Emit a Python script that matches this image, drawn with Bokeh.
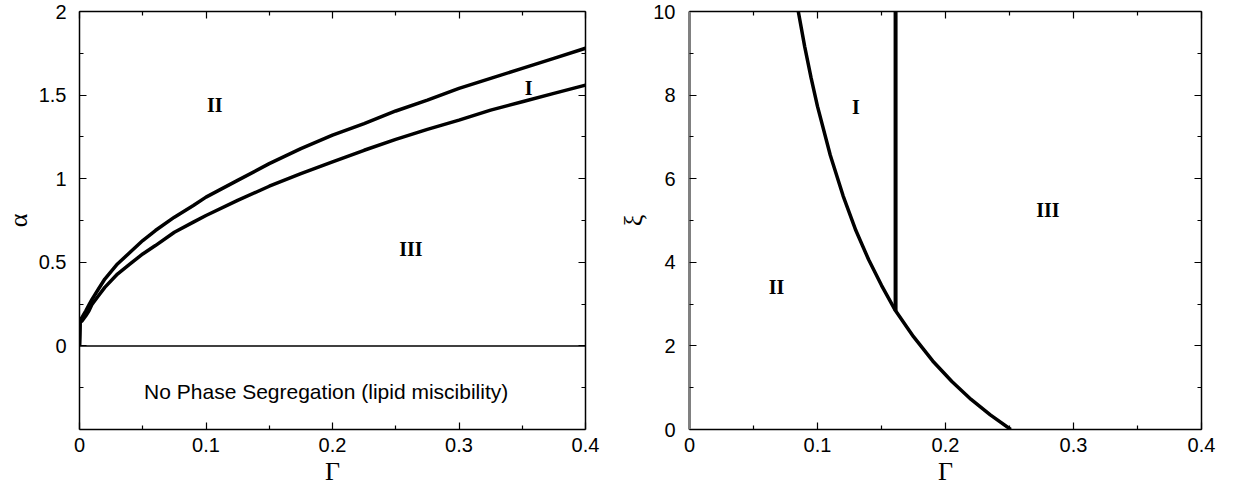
from bokeh.plotting import figure
from bokeh.layouts import row
from bokeh.models import LinearAxis, FixedTicker, Range1d, Span
from bokeh.core.properties import value
from bokeh.embed import file_html
from bokeh.resources import INLINE

# ---- Left panel data (alpha vs Gamma) ----
gamma_left = [0, 0.0005, 0.002, 0.005, 0.0075, 0.01, 0.015, 0.02, 0.03, 0.04, 0.05, 0.06, 0.075, 0.09, 0.1,
              0.125, 0.15, 0.175, 0.2, 0.225, 0.25, 0.275, 0.3, 0.325, 0.35, 0.375, 0.4]
alpha_upper = [0, 0.16, 0.17, 0.21, 0.245, 0.28, 0.34, 0.40, 0.49, 0.56, 0.63, 0.69, 0.77, 0.84, 0.89,
               0.99, 1.09, 1.18, 1.26, 1.33, 1.405, 1.47, 1.54, 1.60, 1.66, 1.72, 1.78]
alpha_lower = [0, 0.14, 0.15, 0.18, 0.21, 0.25, 0.30, 0.35, 0.43, 0.49, 0.55, 0.60, 0.68, 0.74, 0.78,
               0.87, 0.955, 1.03, 1.10, 1.17, 1.235, 1.295, 1.35, 1.41, 1.46, 1.51, 1.56]
left_labels = ["II", "I", "III"]
left_label_x = [0.107, 0.355, 0.262]
left_label_y = [1.44, 1.54, 0.58]
note_text = ["No Phase Segregation (lipid miscibility)"]
note_x = [0.195]
note_y = [-0.27]

# ---- Right panel data (xi vs Gamma) ----
gamma_right = [0.085, 0.090, 0.095, 0.100, 0.110, 0.120, 0.130, 0.140, 0.150, 0.161,
               0.175, 0.190, 0.205, 0.220, 0.235, 0.251]
xi_curve = [10.0, 9.16, 8.41, 7.73, 6.56, 5.59, 4.76, 4.06, 3.45, 2.84,
            2.22, 1.64, 1.15, 0.72, 0.35, 0.0]
vline_gamma = [0.161, 0.161]
vline_xi = [2.84, 10.0]
right_labels = ["I", "II", "III"]
right_label_x = [0.130, 0.068, 0.28]
right_label_y = [7.72, 3.4, 5.26]

x_major = [0, 0.1, 0.2, 0.3, 0.4]
x_minor = [0.05, 0.15, 0.25, 0.35]
ya_major = [0, 0.5, 1, 1.5, 2]
ya_minor = [-0.25, 0.25, 0.75, 1.25, 1.75]
yx_major = [0, 2, 4, 6, 8, 10]
yx_minor = [1, 3, 5, 7, 9]

TICK_FONT = "Liberation Sans"
SERIF = "Liberation Serif"


def style_axis(ax, ticks, minor, show_labels, line_color="black", line_width=1.5):
    ax.ticker = FixedTicker(ticks=ticks, minor_ticks=minor)
    ax.major_tick_in = 7
    ax.major_tick_out = 0
    ax.minor_tick_in = 4
    ax.minor_tick_out = 0
    ax.axis_line_color = line_color
    ax.axis_line_width = line_width
    ax.major_tick_line_color = "black"
    ax.minor_tick_line_color = "black"
    ax.major_tick_line_width = 1.2
    ax.minor_tick_line_width = 1.2
    if show_labels:
        ax.major_label_text_font = TICK_FONT
        ax.major_label_text_font_size = "20px"
        ax.major_label_text_color = "black"
        ax.axis_label_text_color = "black"
    else:
        ax.major_label_text_color = None
        ax.major_label_text_font_size = "1px"
        ax.major_label_standoff = 0


def make_fig(width, height, fw, fh, bl, br, bt, bb, xr, yr):
    p = figure(width=width, height=height, frame_width=fw, frame_height=fh,
               x_range=xr, y_range=yr, output_backend="svg", toolbar_location=None,
               x_axis_location=None, y_axis_location=None,
               min_border_left=bl, min_border_right=br, min_border_top=bt, min_border_bottom=bb)
    p.outline_line_color = None
    p.xgrid.visible = False
    p.ygrid.visible = False
    p.background_fill_color = "white"
    p.border_fill_color = "white"
    return p


def label_axis(ax, standoff):
    ax.axis_label_text_font = SERIF
    ax.axis_label_text_font_style = "normal"
    ax.axis_label_text_font_size = "26px"
    ax.axis_label_text_color = "black"
    ax.axis_label_standoff = standoff


# ---------- Left figure ----------
p1 = make_fig(612, 490, 506, 418, 75, 31, 11, 61, Range1d(0, 0.4), Range1d(-0.5, 2))

xb = LinearAxis(axis_label="Γ")
style_axis(xb, x_major, x_minor, True)
xb.major_label_standoff = 8
label_axis(xb, 2)
p1.add_layout(xb, "below")

xt = LinearAxis()
style_axis(xt, x_major, x_minor, False)
p1.add_layout(xt, "above")

yl = LinearAxis(axis_label="α")
style_axis(yl, ya_major, ya_minor, True)
yl.major_label_standoff = 13
label_axis(yl, 3)
p1.add_layout(yl, "left")

yr_ax = LinearAxis()
style_axis(yr_ax, ya_major, ya_minor, False)
p1.add_layout(yr_ax, "right")

p1.add_layout(Span(location=0, dimension="width", line_color="black", line_width=1.5))
p1.line(gamma_left, alpha_upper, line_color="black", line_width=3.5)
p1.line(gamma_left, alpha_lower, line_color="black", line_width=3.5)
p1.text(x=left_label_x, y=left_label_y, text=left_labels, text_align="center",
        text_baseline="middle", text_font=value(SERIF), text_font_style="bold",
        text_font_size="20px", text_color="black")
p1.text(x=note_x, y=note_y, text=note_text, text_align="center", text_baseline="middle",
        text_font=value(TICK_FONT), text_font_size="21px", text_color="black")

# ---------- Right figure ----------
p2 = make_fig(606, 490, 512, 418, 70, 24, 11, 61, Range1d(0, 0.4), Range1d(0, 10))

xb2 = LinearAxis(axis_label="Γ")
style_axis(xb2, x_major, x_minor, True)
xb2.major_label_standoff = 8
label_axis(xb2, 2)
p2.add_layout(xb2, "below")

xt2 = LinearAxis()
style_axis(xt2, x_major, x_minor, False)
p2.add_layout(xt2, "above")

yl2 = LinearAxis(axis_label="ξ")
style_axis(yl2, yx_major, yx_minor, True, line_color="#808080", line_width=3)
yl2.major_label_standoff = 14
label_axis(yl2, 2)
p2.add_layout(yl2, "left")

yr2 = LinearAxis()
style_axis(yr2, yx_major, yx_minor, False)
p2.add_layout(yr2, "right")

p2.line(gamma_right, xi_curve, line_color="black", line_width=3.5)
p2.line(vline_gamma, vline_xi, line_color="black", line_width=4)
p2.text(x=right_label_x, y=right_label_y, text=right_labels, text_align="center",
        text_baseline="middle", text_font=value(SERIF), text_font_style="bold",
        text_font_size="20px", text_color="black")

layout = row(p1, p2, spacing=0)
open("out.html", "w").write(file_html(layout, INLINE))
